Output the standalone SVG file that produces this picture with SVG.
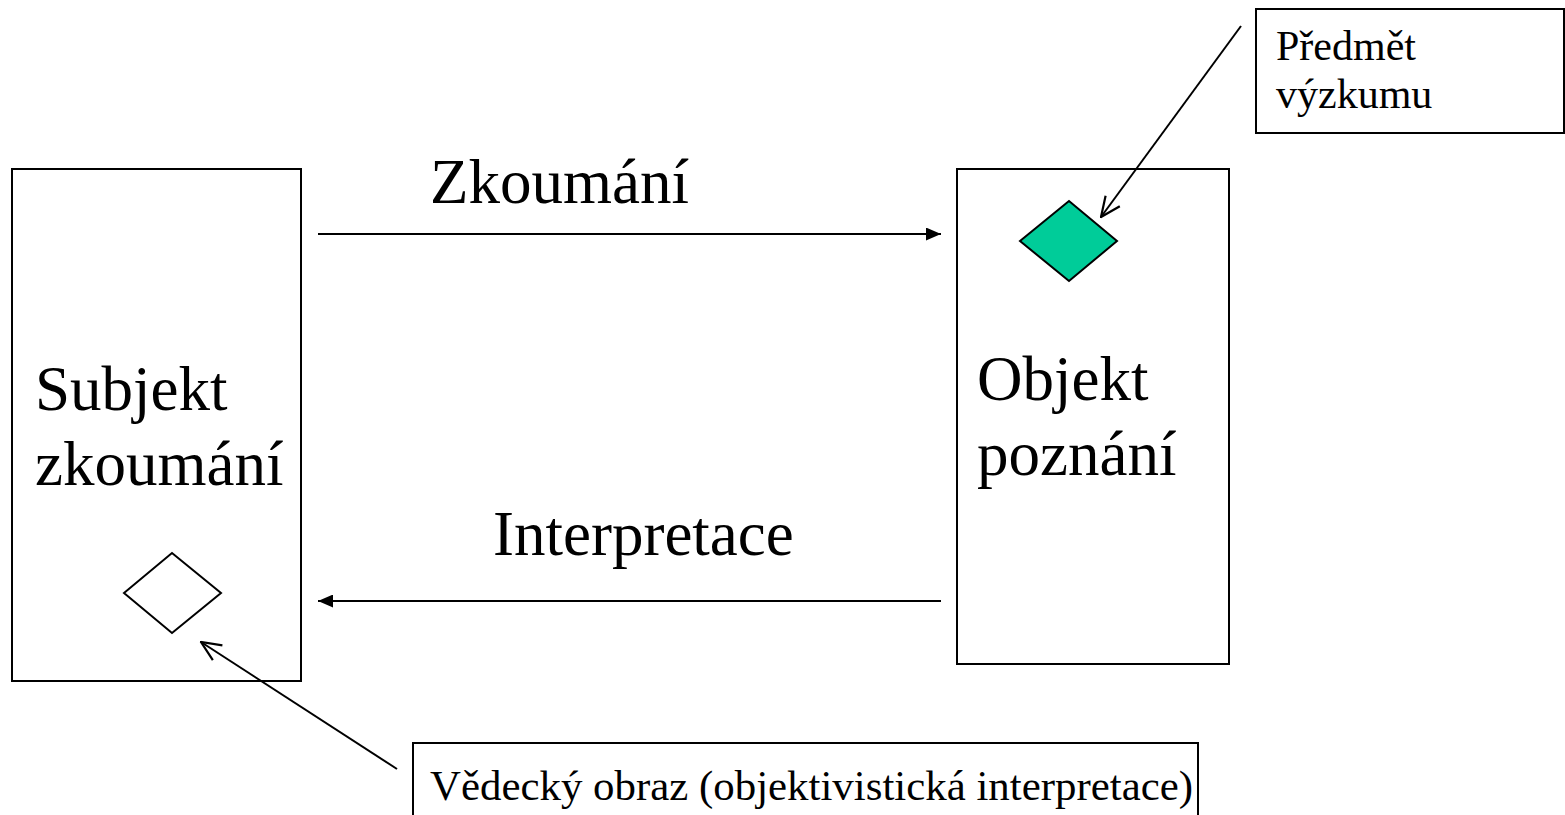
<svg xmlns="http://www.w3.org/2000/svg" width="1565" height="815" viewBox="0 0 1565 815">
<style>
.box{fill:#fff;stroke:#000;stroke-width:2}
.big{font-family:"Liberation Serif","Times New Roman",serif;font-size:63px;fill:#000}
.small{font-family:"Liberation Serif","Times New Roman",serif;font-size:42px;fill:#000}
.line{stroke:#000;stroke-width:2;fill:none}
</style>
<defs>
<marker id="filled" viewBox="0 0 10 10" refX="10" refY="5" markerWidth="15" markerHeight="13" markerUnits="userSpaceOnUse" orient="auto" preserveAspectRatio="none">
<path d="M0,0 L10,5 L0,10 Z" fill="#000"/>
</marker>
<marker id="open" viewBox="0 0 20 20" refX="19" refY="10" markerWidth="22" markerHeight="22" markerUnits="userSpaceOnUse" orient="auto">
<path d="M1,2 L19,10 L1,18" fill="none" stroke="#000" stroke-width="2"/>
</marker>
</defs>
<rect width="1565" height="815" fill="#fff"/>
<g id="subjekt">
<rect class="box" x="12" y="169" width="289" height="512"/>
<text class="big" x="35" y="410">Subjekt</text>
<text class="big" x="35" y="485">zkoumání</text>
<polygon points="124,593 172,553 221,593 172,633" fill="#fff" stroke="#000" stroke-width="2"/>
</g>
<g id="objekt">
<rect class="box" x="957" y="169" width="272" height="495"/>
<text class="big" x="977" y="400">Objekt</text>
<text class="big" x="977" y="475">poznání</text>
<polygon points="1020,241 1069,201 1117,241 1069,281" fill="#00CC99" stroke="#000" stroke-width="2"/>
</g>
<g id="predmet">
<rect class="box" x="1256" y="9" width="308" height="124"/>
<text class="small" x="1276" y="60">Předmět</text>
<text class="small" x="1276" y="108">výzkumu</text>
</g>
<g id="obraz">
<rect class="box" x="413" y="743" width="785" height="80"/>
<text class="small" x="430" y="800" textLength="763" lengthAdjust="spacingAndGlyphs">Vědecký obraz (objektivistická interpretace)</text>
</g>
<g id="labels">
<text class="big" x="430" y="203">Zkoumání</text>
<text class="big" x="493" y="555">Interpretace</text>
</g>
<g id="connectors">
<line class="line" x1="318" y1="234" x2="941" y2="234" marker-end="url(#filled)"/>
<line class="line" x1="941" y1="601" x2="318" y2="601" marker-end="url(#filled)"/>
<line class="line" x1="1241" y1="26" x2="1101" y2="217" marker-end="url(#open)"/>
<line class="line" x1="397" y1="769" x2="201" y2="642" marker-end="url(#open)"/>
</g>
</svg>
